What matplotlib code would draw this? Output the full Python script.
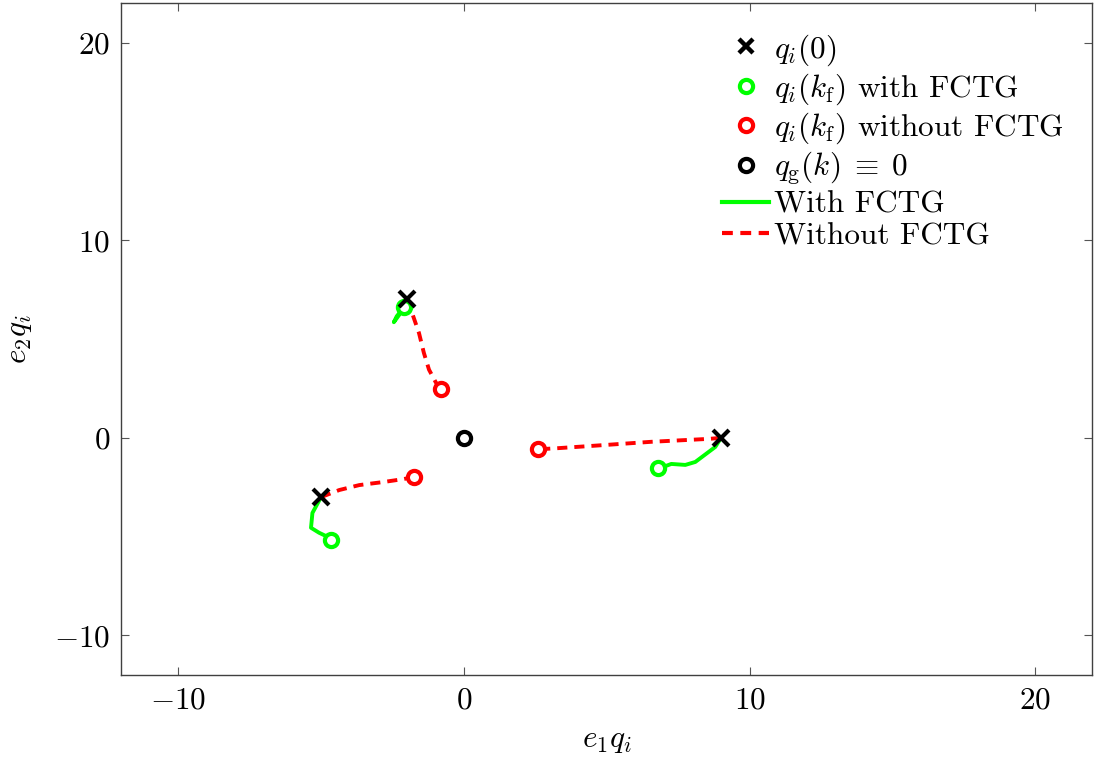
import numpy as np
import matplotlib.pyplot as plt
from matplotlib.lines import Line2D

plt.rcParams['font.family'] = 'serif'
plt.rcParams['font.serif'] = ['cmr10']
plt.rcParams['mathtext.fontset'] = 'cm'
plt.rcParams['axes.formatter.use_mathtext'] = True
plt.rcParams['font.size'] = 22.5

# initial positions q_i(0)
q0_x = [-2.0, -5.0, 9.0]
q0_y = [7.0, -3.0, 0.0]

# trajectories with FCTG (one list per agent)
with_x = [
    [-2.0, -2.1, -2.25, -2.45, -2.35, -2.1],
    [-5.0, -5.3, -5.35, -5.07, -4.78, -4.65],
    [9.0, 8.8, 8.1, 7.75, 7.26, 6.98, 6.8],
]
with_y = [
    [7.0, 6.7, 6.25, 5.85, 6.15, 6.6],
    [-3.0, -3.8, -4.55, -4.8, -5.0, -5.18],
    [0.0, -0.46, -1.22, -1.37, -1.32, -1.47, -1.52],
]

# trajectories without FCTG
without_x = [
    [-2.0, -1.82, -1.57, -1.4, -1.22, -0.98, -0.8],
    [-5.0, -4.36, -3.66, -2.79, -2.09, -1.75],
    [9.0, 8.6, 6.56, 4.96, 3.32, 2.6],
]
without_y = [
    [7.0, 6.35, 5.3, 4.3, 3.45, 2.8, 2.49],
    [-3.0, -2.64, -2.39, -2.23, -2.08, -1.98],
    [0.0, -0.05, -0.2, -0.36, -0.52, -0.58],
]

goal = (0.0, 0.0)

green = '#00ff00'
red = '#ff0000'
dash = (0, (2.6, 1.8))

fig = plt.figure(figsize=(10.94, 7.57), dpi=100)
ax = fig.add_axes([0.1106, 0.1083, 0.888, 0.8877])

for xs, ys in zip(with_x, with_y):
    ax.plot(xs, ys, color=green, lw=2.8, solid_capstyle='round', zorder=2)
for xs, ys in zip(without_x, without_y):
    ax.plot(xs, ys, color=red, lw=2.8, ls=dash, zorder=2)

circ = dict(ls='none', marker='o', ms=9.5, mew=3, mfc='white')
ax.plot([xs[-1] for xs in with_x], [ys[-1] for ys in with_y], mec=green, **circ, zorder=3)
ax.plot([xs[-1] for xs in without_x], [ys[-1] for ys in without_y], mec=red, **circ, zorder=3)
ax.plot([goal[0]], [goal[1]], mec='black', **circ, zorder=3)
ax.plot(q0_x, q0_y, ls='none', marker='x', ms=11, mew=3, color='black', zorder=4)

ax.set_xlim(-12, 22)
ax.set_ylim(-12, 22)
ax.set_xticks([-10, 0, 10, 20])
ax.set_yticks([-10, 0, 10, 20])
ax.tick_params(direction='in', top=True, right=True, length=6, width=0.8,
               color='#555555', pad=8)
for s in ax.spines.values():
    s.set_color('#404040')
    s.set_linewidth(1.0)

ax.set_xlabel(r'$e_1 q_i$', labelpad=9)
ax.set_ylabel(r'$e_2 q_i$', labelpad=14)

handles = [
    Line2D([], [], ls='none', marker='x', ms=10, mew=3.2, color='black'),
    Line2D([], [], mec=green, **circ),
    Line2D([], [], mec=red, **circ),
    Line2D([], [], mec='black', **circ),
    Line2D([], [], color=green, lw=3),
    Line2D([], [], color=red, lw=3, ls=dash),
]
labels = [
    r'$q_i(0)$',
    r'$q_i(k_{\mathrm{f}})$ with FCTG',
    r'$q_i(k_{\mathrm{f}})$ without FCTG',
    r'$q_{\mathrm{g}}(k)\;\equiv\;0$',
    'With FCTG',
    'Without FCTG',
]
ax.legend(handles, labels, loc='upper right', bbox_to_anchor=(0.996, 0.994),
          frameon=False, handlelength=1.5, handletextpad=0.15,
          labelspacing=0.12, borderpad=0.3)

fig.savefig('out.png', dpi=100)
